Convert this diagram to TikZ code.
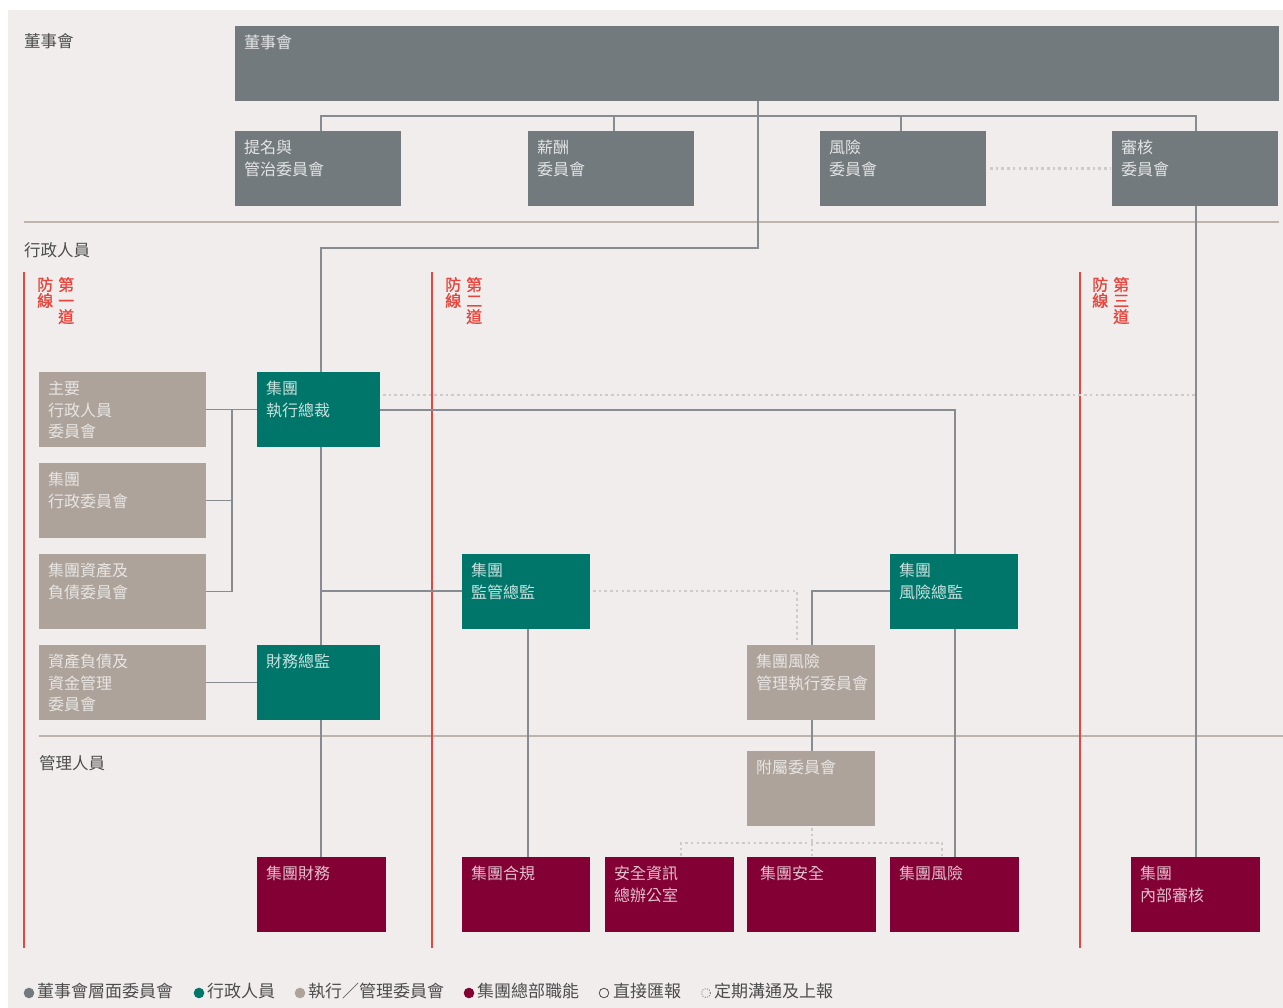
\documentclass[tikz,border=0pt]{standalone}
\usepackage{fontspec}
\setmainfont{Noto Sans CJK TC}
\newfontfamily\redf[FakeBold=1.3]{Noto Sans CJK TC}
\definecolor{bg}{HTML}{F0EDEC}
\definecolor{cgrey}{HTML}{737A7D}
\definecolor{ctaupe}{HTML}{ADA39B}
\definecolor{cgreen}{HTML}{00756A}
\definecolor{cmaroon}{HTML}{820034}
\definecolor{cred}{HTML}{E8453C}
\definecolor{cline}{HTML}{868C8F}
\definecolor{cdot}{HTML}{CFCAC8}
\definecolor{csep}{HTML}{BDB4AE}
\definecolor{ctext}{HTML}{4D4D4D}
\colorlet{tgrey}{white!80!cgrey}
\colorlet{ttaupe}{white!72!ctaupe}
\colorlet{tgreen}{white!78!cgreen}
\colorlet{tmaroon}{white!75!cmaroon}
\tikzset{
  box/.style={anchor=north west, inner sep=0pt, outer sep=0pt, minimum height=75pt},
  bgrey/.style={box, fill=cgrey},
  btaupe/.style={box, fill=ctaupe},
  bgreen/.style={box, fill=cgreen},
  bmaroon/.style={box, fill=cmaroon},
  lbl/.style={anchor=north west, inner sep=0pt, align=left, font=\fontsize{16}{21.5}\selectfont},
  conn/.style={draw=cline, line width=1.5pt},
  dots/.style={draw=cdot, line width=2.6pt, dash pattern=on 2.6pt off 3.1pt},
  sepl/.style={draw=csep, line width=1.4pt},
  redl/.style={draw=cred, line width=1.6pt},
  rlab/.style={anchor=north west, inner sep=0pt, align=center, text=cred, font=\redf\fontsize{16}{16}\selectfont},
  side/.style={anchor=north west, inner sep=0pt, text=ctext, font=\fontsize{16.5}{20}\selectfont},
  leg/.style={anchor=base west, inner sep=0pt, text=ctext, font=\fontsize{17}{20}\selectfont},
}
\newcommand\bx[7]{%
  \node[#2, minimum width=#5pt] (#1) at (#3,#4) {};
  \node[lbl, text=#6] (#1-t) at ([xshift=9pt,yshift=-9pt]#1.north west) {#7};}
\begin{document}
\begin{tikzpicture}[x=1pt,y=-1pt]
\useasboundingbox (0,0) rectangle (1283,1008);
\fill[bg] (8,10) rectangle (1283,1008);

% separators
\draw[sepl] (24,222) -- (1279,222);
\draw[sepl] (39,736) -- (1283,736);

% side labels
\node[side] (s1) at (24,33) {董事會};
\node[side] (s2) at (24,242) {行政人員};
\node[side] (s3) at (39,755) {管理人員};

% red lines of defence
\draw[redl] (24,272) -- (24,948);
\draw[redl] (432,272) -- (432,948);
\draw[redl] (1080,272) -- (1080,948);
\node[rlab] (r1a) at (58,277) {第\\一\\道};
\node[rlab] (r1b) at (37,277) {防\\線};
\node[rlab] (r2a) at (466,277) {第\\二\\道};
\node[rlab] (r2b) at (445,277) {防\\線};
\node[rlab] (r3a) at (1113,277) {第\\三\\道};
\node[rlab] (r3b) at (1092,277) {防\\線};

% boxes
\bx{board}{bgrey}{235}{26}{1044}{tgrey}{董事會}
\bx{nom}{bgrey}{235}{131}{166}{tgrey}{提名與\\管治委員會}
\bx{rem}{bgrey}{528}{131}{166}{tgrey}{薪酬\\委員會}
\bx{riskc}{bgrey}{820}{131}{166}{tgrey}{風險\\委員會}
\bx{auditc}{bgrey}{1112}{131}{166}{tgrey}{審核\\委員會}

\bx{e1}{btaupe}{39}{372}{167}{ttaupe}{主要\\行政人員\\委員會}
\bx{e2}{btaupe}{39}{463}{167}{ttaupe}{集團\\行政委員會}
\bx{e3}{btaupe}{39}{554}{167}{ttaupe}{集團資產及\\負債委員會}
\bx{e4}{btaupe}{39}{645}{167}{ttaupe}{資產負債及\\資金管理\\委員會}

\bx{ceo}{bgreen}{257}{372}{123}{tgreen}{集團\\執行總裁}
\bx{cfo}{bgreen}{257}{645}{123}{tgreen}{財務總監}
\bx{sup}{bgreen}{462}{554}{128}{tgreen}{集團\\監管總監}
\bx{cro}{bgreen}{890}{554}{128}{tgreen}{集團\\風險總監}
\bx{rmc}{btaupe}{747}{645}{128}{ttaupe}{集團風險\\管理執行委員會}
\bx{sub}{btaupe}{747}{751}{128}{ttaupe}{附屬委員會}

\bx{fin}{bmaroon}{257}{857}{129}{tmaroon}{集團財務}
\bx{comp}{bmaroon}{462}{857}{128}{tmaroon}{集團合規}
\bx{secoff}{bmaroon}{605}{857}{129}{tmaroon}{安全資訊\\總辦公室}
\bx{gsec}{bmaroon}{747}{857}{129}{tmaroon}{\hspace{4pt}集團安全}
\bx{grisk}{bmaroon}{890}{857}{129}{tmaroon}{集團風險}
\bx{ia}{bmaroon}{1131}{857}{129}{tmaroon}{集團\\內部審核}

% board-level connectors
\coordinate (busL) at (321,116);
\coordinate (busR) at (1196,116);
\coordinate (j1) at (758,248);
\coordinate (j2) at (321,248);
\draw[conn] (nom.north -| busL) -- (busL) -- (busR) -- (auditc.north -| busR);
\draw[conn] ([xshift=3pt]rem.north) -- ([xshift=3pt]rem.north |- busL);
\draw[conn] ([xshift=-2pt]riskc.north) -- ([xshift=-2pt]riskc.north |- busL);
\draw[conn] (board.south -| j1) -- (j1) -- (j2) -- (ceo.north -| j2);
\draw[conn] (auditc.south -| busR) -- (ia.north -| busR);
\draw[dots] ([xshift=4pt]riskc.east) -- ([xshift=-2pt]auditc.west);

% executive connectors
\coordinate (brk) at (232,410);
\draw[conn] (e1.east) -- (ceo.west);
\draw[conn] (e2.east) -- (e2.east -| brk);
\draw[conn] (e3.east) -- (e3.east -| brk) -- (brk);
\draw[conn] (e4.east) -- (cfo.west);
\draw[conn] (ceo.south -| j2) -- (cfo.north -| j2);
\draw[conn] (cfo.south -| j2) -- (fin.north -| j2);
\coordinate (br2) at (321,591);
\draw[conn] (br2) -- (sup.west |- br2);
\coordinate (cr) at (955,410);
\draw[conn] (ceo.east |- cr) -- (cr) -- (cro.north -| cr);
\draw[conn] (cro.south -| cr) -- (grisk.north -| cr);
\coordinate (dB) at (1196,395);
\draw[dots] ([xshift=3pt]ceo.east |- dB) -- (dB);

\coordinate (sd) at (797,591);
\draw[dots] ([xshift=3pt]sup.east |- sd) -- (sd) -- ([yshift=2pt]rmc.north -| sd);
\coordinate (rj) at (812,591);
\draw[conn] (cro.west |- rj) -- (rj) -- (rmc.north -| rj);
\draw[conn] (rmc.south -| rj) -- (sub.north -| rj);
\coordinate (cx) at (528,629);
\draw[conn] (sup.south -| cx) -- (comp.north -| cx);

\coordinate (h1) at (681,843);
\coordinate (h2) at (942,843);
\coordinate (hm) at (812,843);
\draw[dots] ([yshift=-2pt]sub.south -| hm) -- (hm);
\draw[dots] ([yshift=1pt]secoff.north -| h1) -- (h1) -- (h2) -- ([yshift=1pt]grisk.north -| h2);
\draw[dots] (hm) -- ([yshift=1pt]gsec.north -| hm);

% legend
\fill[cgrey] (29,993) circle (5.3);
\node[leg] (lg1) at (37,997) {董事會層面委員會};
\fill[cgreen] (199,993) circle (5.3);
\node[leg] (lg2) at (207,997) {行政人員};
\fill[ctaupe] (300,993) circle (5.3);
\node[leg] (lg3) at (308,997) {執行／管理委員會};
\fill[cmaroon] (469,993) circle (5.3);
\node[leg] (lg4) at (477,997) {集團總部職能};
\draw[ctext, line width=0.8pt] (604,993) circle (4.8);
\node[leg] (lg5) at (613,997) {直接匯報};
\draw[ctext!70, line width=0.9pt, dash pattern=on 1pt off 1.4pt] (706,993) circle (4.5);
\node[leg] (lg6) at (714,997) {定期溝通及上報};
\end{tikzpicture}
\end{document}
